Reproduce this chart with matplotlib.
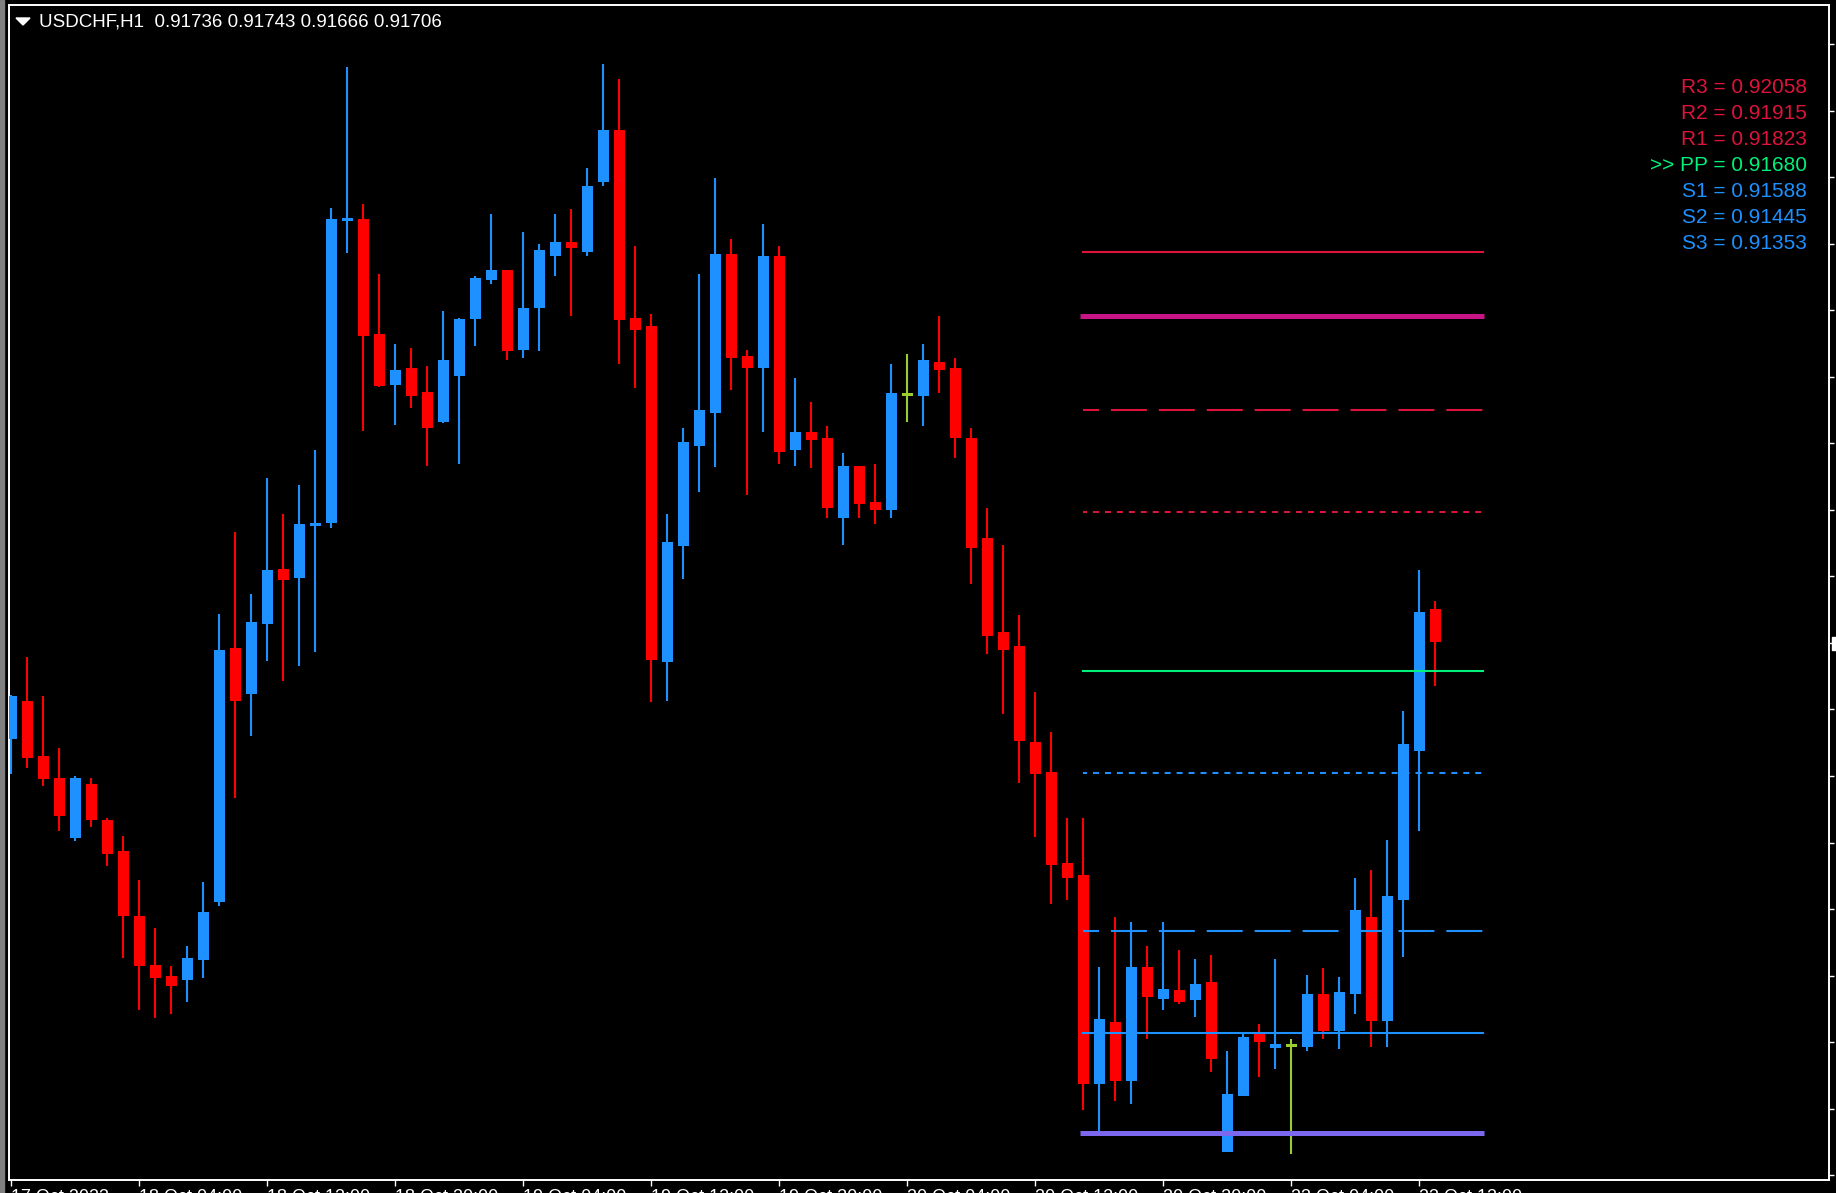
import matplotlib
matplotlib.use("Agg")
import matplotlib.pyplot as plt
from matplotlib.patches import Rectangle, Polygon
import numpy as np

plt.rcParams['font.family'] = ['Liberation Sans', 'DejaVu Sans']
plt.rcParams['lines.scale_dashes'] = False

# ---- data ----
symbol = "USDCHF,H1"
opens = [0.91618, 0.91653, 0.91603, 0.91583, 0.91529, 0.91578, 0.91545, 0.91517, 0.91459, 0.91415,
         0.91405, 0.91401, 0.91419, 0.91471, 0.91700, 0.91659, 0.91722, 0.91772, 0.91764, 0.91811,
         0.91813, 0.92086, 0.92087, 0.91984, 0.91938, 0.91953, 0.91931, 0.91904, 0.91946, 0.91997,
         0.92032, 0.92041, 0.91969, 0.92007, 0.92054, 0.92067, 0.92058, 0.92121, 0.92168, 0.91998,
         0.91991, 0.91688, 0.91792, 0.91883, 0.91912, 0.92056, 0.91964, 0.91953, 0.92054, 0.91879,
         0.91895, 0.91890, 0.91818, 0.91865, 0.91832, 0.91825, 0.91929, 0.91928, 0.91958, 0.91953,
         0.91890, 0.91800, 0.91715, 0.91702, 0.91616, 0.91589, 0.91507, 0.91496, 0.91307, 0.91363,
         0.91310, 0.91413, 0.91384, 0.91392, 0.91383, 0.91399, 0.91246, 0.91296, 0.91352, 0.91340,
         0.91342, 0.91341, 0.91388, 0.91355, 0.91388, 0.91458, 0.91364, 0.91473, 0.91608, 0.91736]
highs = [0.91658, 0.91692, 0.91657, 0.91610, 0.91585, 0.91583, 0.91547, 0.91531, 0.91491, 0.91448,
         0.91414, 0.91432, 0.91489, 0.91731, 0.91805, 0.91749, 0.91854, 0.91821, 0.91847, 0.91879,
         0.92097, 0.92224, 0.92101, 0.92038, 0.91975, 0.91971, 0.91955, 0.92004, 0.91998, 0.92036,
         0.92092, 0.92041, 0.92076, 0.92065, 0.92092, 0.92096, 0.92133, 0.92227, 0.92214, 0.92063,
         0.92002, 0.91821, 0.91899, 0.92038, 0.92124, 0.92069, 0.91969, 0.92083, 0.92063, 0.91944,
         0.91922, 0.91901, 0.91876, 0.91865, 0.91866, 0.91957, 0.91966, 0.91975, 0.92000, 0.91962,
         0.91899, 0.91827, 0.91793, 0.91730, 0.91661, 0.91625, 0.91547, 0.91547, 0.91413, 0.91458,
         0.91453, 0.91432, 0.91453, 0.91428, 0.91420, 0.91424, 0.91337, 0.91352, 0.91361, 0.91420,
         0.91348, 0.91406, 0.91412, 0.91404, 0.91493, 0.91500, 0.91527, 0.91644, 0.91771, 0.91743]
lows = [0.91587, 0.91592, 0.91576, 0.91535, 0.91526, 0.91539, 0.91504, 0.91421, 0.91374, 0.91367,
        0.91370, 0.91381, 0.91403, 0.91468, 0.91565, 0.91621, 0.91689, 0.91671, 0.91684, 0.91697,
        0.91809, 0.92057, 0.91896, 0.91936, 0.91902, 0.91917, 0.91865, 0.91903, 0.91866, 0.91973,
        0.92029, 0.91960, 0.91962, 0.91968, 0.92036, 0.92000, 0.92054, 0.92117, 0.91957, 0.91935,
        0.91652, 0.91653, 0.91763, 0.91841, 0.91864, 0.91933, 0.91838, 0.91895, 0.91866, 0.91865,
        0.91863, 0.91818, 0.91793, 0.91818, 0.91812, 0.91818, 0.91904, 0.91901, 0.91930, 0.91872,
        0.91758, 0.91695, 0.91641, 0.91579, 0.91530, 0.91470, 0.91473, 0.91284, 0.91263, 0.91292,
        0.91289, 0.91348, 0.91374, 0.91379, 0.91368, 0.91318, 0.91246, 0.91296, 0.91314, 0.91321,
        0.91244, 0.91337, 0.91348, 0.91339, 0.91370, 0.91341, 0.91341, 0.91422, 0.91535, 0.91666]
closes = [0.91657, 0.91601, 0.91582, 0.91549, 0.91583, 0.91545, 0.91515, 0.91459, 0.91414, 0.91403,
          0.91396, 0.91421, 0.91462, 0.91699, 0.91653, 0.91724, 0.91771, 0.91762, 0.91812, 0.91813,
          0.92087, 0.92088, 0.91982, 0.91937, 0.91951, 0.91928, 0.91899, 0.91960, 0.91997, 0.92034,
          0.92041, 0.91968, 0.92007, 0.92059, 0.92067, 0.92061, 0.92117, 0.92168, 0.91996, 0.91987,
          0.91690, 0.91796, 0.91886, 0.91915, 0.92056, 0.91962, 0.91953, 0.92054, 0.91877, 0.91895,
          0.91888, 0.91827, 0.91865, 0.91830, 0.91825, 0.91930, 0.91929, 0.91960, 0.91951, 0.91890,
          0.91791, 0.91711, 0.91699, 0.91617, 0.91587, 0.91505, 0.91493, 0.91307, 0.91366, 0.91310,
          0.91413, 0.91386, 0.91393, 0.91381, 0.91397, 0.91330, 0.91298, 0.91350, 0.91345, 0.91343,
          0.91342, 0.91388, 0.91355, 0.91390, 0.91464, 0.91364, 0.91477, 0.91614, 0.91733, 0.91706]

level_names = ["R3", "R2", "R1", "PP", "S1", "S2", "S3"]
level_values = [0.92058, 0.91915, 0.91823, 0.91680, 0.91588, 0.91445, 0.91353]
prev_high = 0.92000
prev_low = 0.91263

time_labels = ["17 Oct 2023", "18 Oct 04:00", "18 Oct 12:00", "18 Oct 20:00",
               "19 Oct 04:00", "19 Oct 12:00", "19 Oct 20:00", "20 Oct 04:00",
               "20 Oct 12:00", "20 Oct 20:00", "23 Oct 04:00", "23 Oct 12:00"]

# ---- figure ----
W, H = 1836, 1193
fig = plt.figure(figsize=(W / 100, H / 100), dpi=100, facecolor='black')
ax = fig.add_axes([9 / W, 1 - 1180 / H, 1820 / W, 1175 / H], facecolor='black')

x = np.arange(len(opens))
o = np.array(opens)
h = np.array(highs)
l = np.array(lows)
c = np.array(closes)

bull, bear, doji = '#1E90FF', '#FF0000', '#9ACD32'
colors = np.where(c > o, bull, np.where(c < o, bear, doji))

min_body = 0.000024
body_h = np.maximum(np.abs(c - o), min_body)
body_b = np.where(np.abs(c - o) < min_body, (o + c) / 2 - min_body / 2, np.minimum(o, c))

ax.vlines(x, l, h, colors=colors, linewidth=1.5, zorder=2)
ax.bar(x, body_h, bottom=body_b, width=0.66, color=colors, linewidth=0, zorder=3)

# pivot levels
long_dash = (14.4, (25.9, 8.6))
dot = (1.4, (4.3, 4.3))
lvl_colors = ['#DC143C', '#DC143C', '#DC143C', '#00F07A', '#1E90FF', '#1E90FF', '#1E90FF']
lvl_styles = ['-', long_dash, dot, '-', dot, long_dash, '-']
for v, col, ls in zip(level_values, lvl_colors, lvl_styles):
    ax.plot([67, 92], [v, v], color=col, lw=1.5, linestyle=ls, zorder=5)

ax.plot([66.8, 92.05], [prev_high, prev_high], color='#C71585', lw=3.6,
        solid_capstyle='butt', zorder=5)
ax.plot([66.8, 92.05], [prev_low, prev_low], color='#7B68EE', lw=3.6,
        solid_capstyle='butt', zorder=5)

# level labels in the top right corner
for i, (name, v, col) in enumerate(zip(level_names, level_values, lvl_colors)):
    prefix = '>> ' if name == 'PP' else ''
    fig.text(1807 / W, 1 - (93.3 + 26 * i) / H, f"{prefix}{name} = {v:.5f}",
             color=col, fontsize=15, ha='right', va='baseline')

# title
fig.text(39 / W, 1 - 26.7 / H, f"{symbol}  {opens[-1]:.5f} {highs[-1]:.5f} {lows[-1]:.5f} {closes[-1]:.5f}",
         color='white', fontsize=13.5, ha='left', va='baseline')
fig.patches.append(Polygon([(16 / W, 1 - 18 / H), (30 / W, 1 - 18 / H), (23 / W, 1 - 25 / H)],
                           closed=True, transform=fig.transFigure, color='white'))

# axes: ticks first, then the view limits so the ticks cannot widen them
ymin, ymax = 0.912207, 0.922803
yt = 0.91705 + 0.0006 * np.arange(-9, 10)
ax.yaxis.tick_right()
ax.set_yticks(yt[(yt > ymin) & (yt < ymax)])
ax.tick_params(axis='y', length=3.8, width=1.0, color='white', labelright=False, labelleft=False)
ax.set_xticks(np.arange(0, len(opens), 8))
ax.set_xticklabels(time_labels)
ax.tick_params(axis='x', length=4.3, width=1.0, color='white', labelcolor='white',
               labelsize=13, pad=2)
for lab in ax.get_xticklabels():
    lab.set_ha('left')
ax.set_xlim(-0.144, 113.61)
ax.set_ylim(ymin, ymax)
for sp in ax.spines.values():
    sp.set_color('white')
    sp.set_linewidth(1.4)

# left gray strip and current price marker
fig.patches.append(Rectangle((0, 0), 3.5 / W, 1, transform=fig.transFigure, color='#808080'))
fig.patches.append(Rectangle((1832 / W, 1 - 650 / H), 4 / W, 13 / H,
                             transform=fig.transFigure, color='white'))

fig.savefig("out.png", dpi=100, facecolor='black')
